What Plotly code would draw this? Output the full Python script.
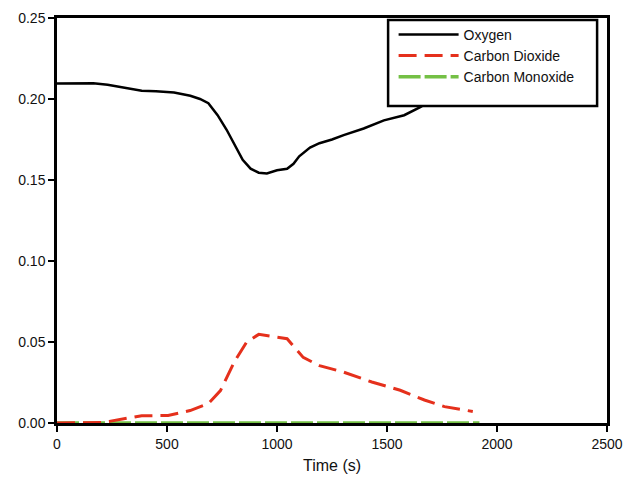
import plotly.graph_objects as go

# Gas fractions
o2_time = [0, 100, 165, 230, 294, 385, 450, 532, 606, 650, 688, 730, 771, 810, 844, 880, 917, 954,
           1000, 1046, 1075, 1101, 1150, 1193, 1250, 1303, 1394, 1486, 1578, 1651, 1700, 1800, 1900]
o2_frac = [0.2095, 0.2095, 0.2097, 0.2088, 0.2071, 0.2051, 0.2048, 0.2040, 0.2020, 0.2000, 0.1974,
           0.1900, 0.1810, 0.1710, 0.1625, 0.1570, 0.1545, 0.1540, 0.1560, 0.1569, 0.1600, 0.1646,
           0.1700, 0.1727, 0.1750, 0.1777, 0.1818, 0.1868, 0.1900, 0.1950, 0.1990, 0.2040, 0.2080]

co2_time = [0, 100, 202, 238, 300, 385, 505, 605, 688, 743, 807, 862, 917, 954, 1000, 1046, 1119,
            1193, 1303, 1431, 1560, 1670, 1761, 1890]
co2_frac = [0.0, 0.0, 0.0003, 0.0010, 0.0025, 0.0045, 0.0046, 0.0077, 0.0120, 0.0200, 0.0380,
            0.0500, 0.0547, 0.0540, 0.0530, 0.0520, 0.0405, 0.0354, 0.0314, 0.0253, 0.0202,
            0.0142, 0.0101, 0.0071]

co_time = [0, 500, 1000, 1500, 1920]
co_frac = [0.0, 0.0, 0.0, 0.0, 0.0]

x_ticks = [0, 500, 1000, 1500, 2000, 2500]
y_ticks = [0.00, 0.05, 0.10, 0.15, 0.20, 0.25]

FONT = "Arial, Liberation Sans, sans-serif"

fig = go.Figure()
fig.add_trace(go.Scatter(x=o2_time, y=o2_frac, mode="lines", name="Oxygen",
                         line=dict(color="#000000", width=2.5), legendrank=1, cliponaxis=False))
fig.add_trace(go.Scatter(x=co_time, y=co_frac, mode="lines", name="Carbon Monoxide",
                         line=dict(color="#74c045", width=3.5, dash="22px,4px"),
                         legendrank=3, cliponaxis=False))
fig.add_trace(go.Scatter(x=co2_time, y=co2_frac, mode="lines", name="Carbon Dioxide",
                         line=dict(color="#e5301c", width=3, dash="18px,8px"),
                         legendrank=2, cliponaxis=False))

# legend frame: white box hides the oxygen curve behind it
fig.add_shape(type="rect", xref="paper", yref="paper", x0=0.602, x1=0.982, y0=0.783, y1=0.995,
              fillcolor="white", line=dict(color="black", width=2.5), layer="above")

axis_common = dict(showline=True, linecolor="black", linewidth=2.5, mirror=True,
                   showgrid=False, zeroline=False, ticks="outside", ticklen=6,
                   tickwidth=2, tickcolor="black", layer="below traces", automargin=False,
                   ticklabeloverflow="allow",
                   tickfont=dict(family=FONT, size=14, color="#111111"))

# page body has an 8px margin, so the figure is 8px smaller on each axis
fig.update_layout(
    width=624, height=489,
    margin=dict(l=49, r=25, t=10, b=74, autoexpand=False),
    plot_bgcolor="white", paper_bgcolor="white",
    xaxis=dict(range=[0, 2500], tickvals=x_ticks, ticktext=[str(v) for v in x_ticks],
               title=dict(text="Time (s)", font=dict(family=FONT, size=16, color="#111111"),
                          standoff=10),
               **axis_common),
    yaxis=dict(range=[0, 0.25], tickvals=y_ticks, ticktext=[f"{v:.2f}" for v in y_ticks],
               **axis_common),
    legend=dict(x=0.612, y=0.998, xanchor="left", yanchor="top",
                bgcolor="rgba(0,0,0,0)", borderwidth=0, itemwidth=60,
                font=dict(family=FONT, size=14, color="#111111"), tracegroupgap=0),
    showlegend=True,
)

fig.write_html("out.html")
